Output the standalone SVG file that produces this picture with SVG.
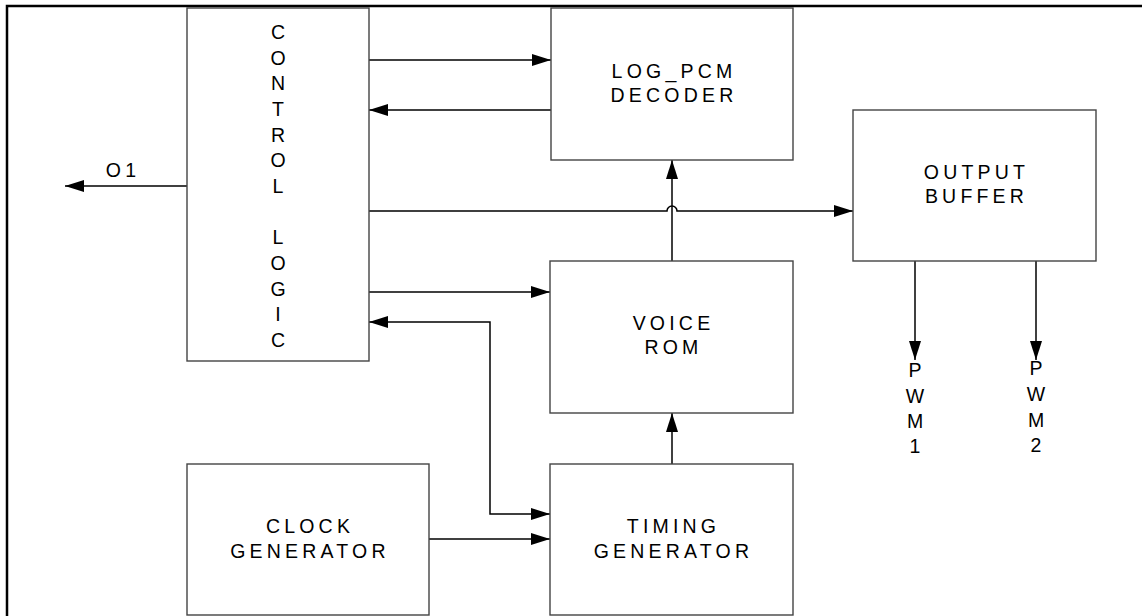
<svg xmlns="http://www.w3.org/2000/svg" width="1142" height="616" viewBox="0 0 1142 616">
<style>
.box{fill:#fff;stroke:#444;stroke-width:1.4}
.frame{fill:none;stroke:#000;stroke-width:2.5}
.c{fill:none;stroke:#000;stroke-width:1.5}
.t{font-family:"Liberation Sans",Arial,sans-serif;font-size:19.5px;letter-spacing:4.2px;fill:#000;text-anchor:middle}
.v{font-family:"Liberation Sans",Arial,sans-serif;font-size:19.5px;fill:#000;text-anchor:middle}
</style>
<defs>
<marker id="ah" markerUnits="userSpaceOnUse" markerWidth="19" markerHeight="13" viewBox="0 0 19 13" refX="19" refY="6.5" orient="auto-start-reverse">
<path d="M0,0.5 L19,6.5 L0,12.5 z" fill="#000"/>
</marker>
</defs>
<rect width="1142" height="616" fill="#fff"/>
<rect class="frame" x="7" y="6" width="1160" height="640"/>

<g id="connectors">
<path class="c" d="M369,60 H551" marker-end="url(#ah)"/>
<path class="c" d="M551,110 H369" marker-end="url(#ah)"/>
<path class="c" d="M187,186 H65" marker-end="url(#ah)"/>
<path class="c" d="M369,211 H667 A5,5 0 0 1 677,211 H853" marker-end="url(#ah)"/>
<path class="c" d="M672,261 V160" marker-end="url(#ah)"/>
<path class="c" d="M369,292 H550" marker-end="url(#ah)"/>
<path class="c" d="M369,322 H490 V514 H550" marker-start="url(#ah)" marker-end="url(#ah)"/>
<path class="c" d="M429,539 H550" marker-end="url(#ah)"/>
<path class="c" d="M672,464 V413" marker-end="url(#ah)"/>
<path class="c" d="M915,261 V360" marker-end="url(#ah)"/>
<path class="c" d="M1036,261 V360" marker-end="url(#ah)"/>
<text class="t" x="123" y="177">O1</text>
</g>

<g id="control-logic">
<rect class="box" x="187" y="8" width="182" height="353"/>
<text class="v" x="278" y="39">C</text>
<text class="v" x="278" y="64.7">O</text>
<text class="v" x="278" y="90.3">N</text>
<text class="v" x="278" y="116">T</text>
<text class="v" x="278" y="141.7">R</text>
<text class="v" x="278" y="167.3">O</text>
<text class="v" x="278" y="193">L</text>
<text class="v" x="278" y="244.3">L</text>
<text class="v" x="278" y="270">O</text>
<text class="v" x="278" y="295.7">G</text>
<text class="v" x="278" y="321.3">I</text>
<text class="v" x="278" y="347">C</text>
</g>

<g id="log-pcm-decoder">
<rect class="box" x="551" y="8" width="242" height="152"/>
<text class="t" x="674" y="78">LOG_PCM</text>
<text class="t" x="674" y="102">DECODER</text>
</g>

<g id="output-buffer">
<rect class="box" x="853" y="110" width="243" height="151"/>
<text class="t" x="976.5" y="179">OUTPUT</text>
<text class="t" x="976.5" y="203">BUFFER</text>
</g>

<g id="voice-rom">
<rect class="box" x="550" y="261" width="243" height="152"/>
<text class="t" x="673.5" y="330">VOICE</text>
<text class="t" x="673.5" y="354">ROM</text>
</g>

<g id="clock-generator">
<rect class="box" x="187" y="464" width="242" height="151"/>
<text class="t" x="310" y="533">CLOCK</text>
<text class="t" x="310" y="558">GENERATOR</text>
</g>

<g id="timing-generator">
<rect class="box" x="550" y="464" width="243" height="151"/>
<text class="t" x="673.5" y="533">TIMING</text>
<text class="t" x="673.5" y="558">GENERATOR</text>
</g>

<g id="pwm1">
<text class="v" x="915" y="377">P</text>
<text class="v" x="915" y="403">W</text>
<text class="v" x="915" y="428">M</text>
<text class="v" x="915" y="453">1</text>
</g>

<g id="pwm2">
<text class="v" x="1036" y="375">P</text>
<text class="v" x="1036" y="401">W</text>
<text class="v" x="1036" y="427">M</text>
<text class="v" x="1036" y="452">2</text>
</g>
</svg>
